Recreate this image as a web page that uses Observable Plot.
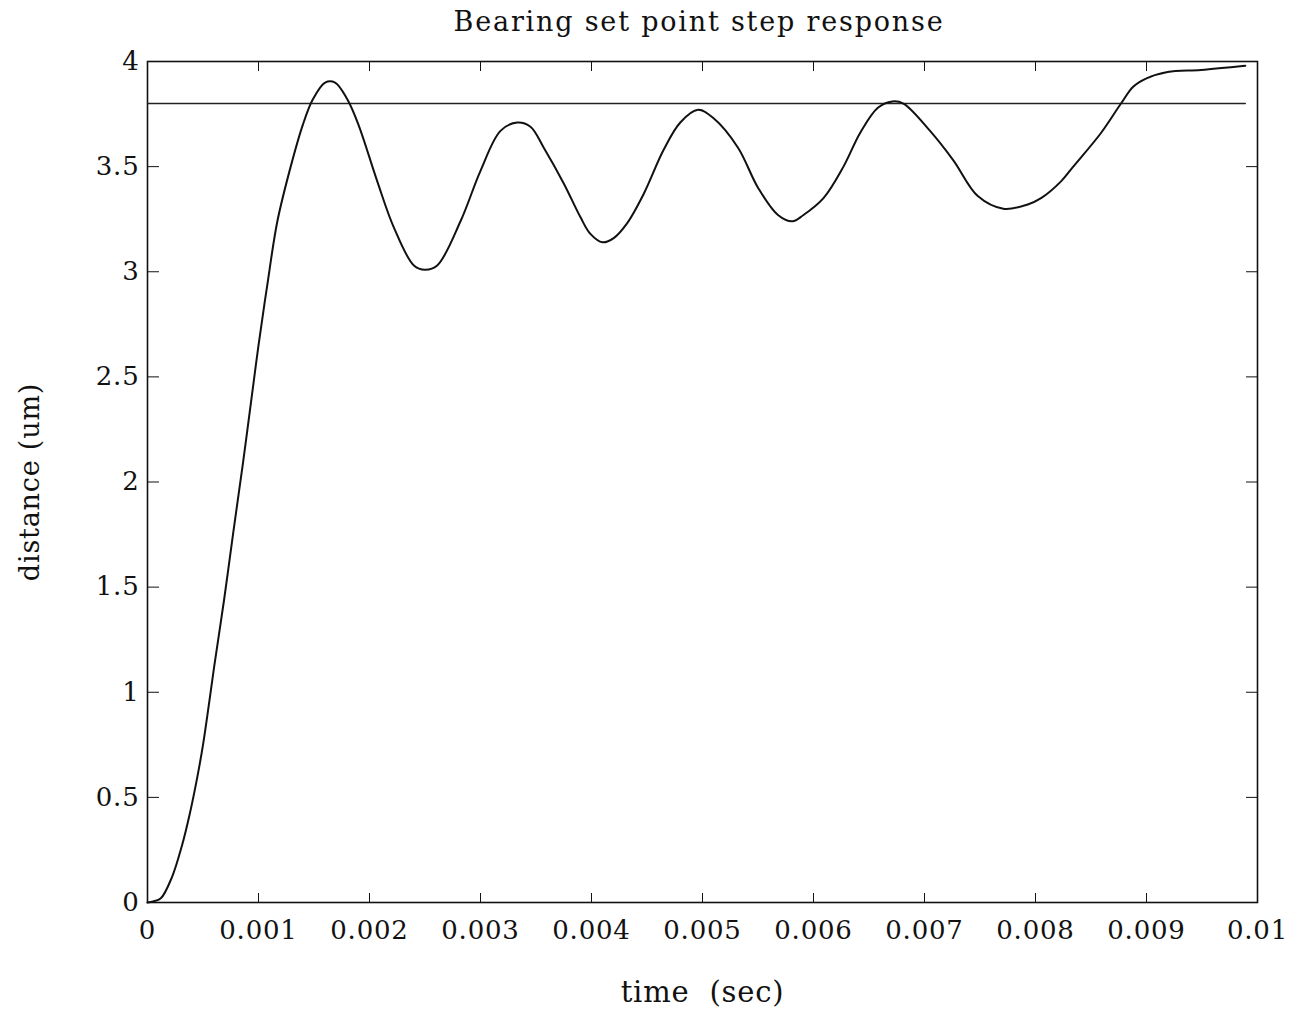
<!DOCTYPE html>
<html>
<head>
<meta charset="utf-8">
<script src="https://cdn.jsdelivr.net/npm/d3@7"></script>
<script src="https://cdn.jsdelivr.net/npm/@observablehq/plot@0.6"></script>
<style>
  html, body { margin: 0; padding: 0; background: #fff; }
  #title { height: 44px; line-height: 44px; width: 1302px; text-align: center; padding-left: 96px; box-sizing: border-box;
           font-family: "DejaVu Serif", serif; font-size: 27px; letter-spacing: 1.8px; color: #111; }
</style>
</head>
<body>
<div id="title">Bearing set point step response</div>
<div id="chart"></div>
<script>
// time (sec)
const timeSec = [0, 0.00005, 0.00012, 0.00022, 0.00031, 0.00038, 0.00045, 0.0005, 0.00055, 0.0006,
  0.00069, 0.00077, 0.00086, 0.00095, 0.001, 0.00108, 0.00117, 0.00129, 0.0014, 0.00149,
  0.0016, 0.00169, 0.0018, 0.0019, 0.00207, 0.00222, 0.0024, 0.0025, 0.00261, 0.00282,
  0.003, 0.00318, 0.00333, 0.00345, 0.00357, 0.00375, 0.0039, 0.00399, 0.0041, 0.0042,
  0.00432, 0.00447, 0.00465, 0.0048, 0.00496, 0.0051, 0.00532, 0.0055, 0.00568, 0.00581,
  0.00591, 0.00609, 0.00627, 0.00642, 0.00658, 0.00671, 0.00681, 0.00705, 0.00726, 0.00748,
  0.00771, 0.00793, 0.00805, 0.00823, 0.00834, 0.00859, 0.00877, 0.00888, 0.009, 0.00919,
  0.00949, 0.00989];
// distance (um)
const distanceUm = [0, 0.005, 0.02, 0.12, 0.27, 0.42, 0.6, 0.75, 0.93, 1.12,
  1.44, 1.75, 2.09, 2.45, 2.65, 2.94, 3.24, 3.50, 3.70, 3.82,
  3.90, 3.90, 3.82, 3.70, 3.43, 3.21, 3.03, 3.01, 3.03, 3.24,
  3.48, 3.67, 3.71, 3.69, 3.59, 3.42, 3.26, 3.18, 3.14, 3.16,
  3.23, 3.37, 3.58, 3.71, 3.77, 3.73, 3.59, 3.40, 3.27, 3.24,
  3.27, 3.35, 3.50, 3.66, 3.78, 3.81, 3.80, 3.67, 3.53, 3.36,
  3.30, 3.32, 3.35, 3.43, 3.50, 3.66, 3.80, 3.88, 3.92, 3.95,
  3.96, 3.98];
// set point
const setPointTime = [0, 0.00989];
const setPointValue = [3.8, 3.8];
// ticks
const xTicks = [0, 0.001, 0.002, 0.003, 0.004, 0.005, 0.006, 0.007, 0.008, 0.009, 0.01];
const xTickLabels = ["0", "0.001", "0.002", "0.003", "0.004", "0.005", "0.006", "0.007", "0.008", "0.009", "0.01"];
const yTicks = [0, 0.5, 1, 1.5, 2, 2.5, 3, 3.5, 4];
const yTickLabels = ["0", "0.5", "1", "1.5", "2", "2.5", "3", "3.5", "4"];
const xLabel = ["time\u00a0\u00a0(sec)"];
const yLabel = ["distance (um)"];

const response = timeSec.map((t, i) => ({t, v: distanceUm[i]}));
const setPoint = setPointTime.map((t, i) => ({t, v: setPointValue[i]}));
const fmtX = d => xTickLabels[xTicks.indexOf(d)] ?? "";
const fmtY = d => yTickLabels[yTicks.indexOf(d)] ?? "";

const chart = Plot.plot({
  width: 1302,
  height: 982,
  marginLeft: 147,
  marginRight: 45,
  marginTop: 17,
  marginBottom: 124,
  style: {fontFamily: "DejaVu Serif, serif", fontSize: "26px", color: "#111", background: "#fff", letterSpacing: "0.8px"},
  x: {domain: [0, 0.01]},
  y: {domain: [0, 4]},
  marks: [
    Plot.frame({stroke: "#111", strokeWidth: 1.6}),
    // inward ticks
    Plot.axisX(xTicks, {anchor: "bottom", tickSize: -9, tickFormat: () => "", label: null, stroke: "#111"}),
    Plot.axisX(xTicks, {anchor: "top", tickSize: -9, tickFormat: () => "", label: null, stroke: "#111"}),
    Plot.axisY(yTicks, {anchor: "left", tickSize: -12, tickFormat: () => "", label: null, stroke: "#111"}),
    Plot.axisY(yTicks, {anchor: "right", tickSize: -12, tickFormat: () => "", label: null, stroke: "#111"}),
    // tick labels
    Plot.axisX(xTicks, {anchor: "bottom", tickSize: 0, tickPadding: 18, tickFormat: fmtX, fontSize: 26, label: null, fill: "#111"}),
    Plot.axisY(yTicks, {anchor: "left", tickSize: 0, tickPadding: 8, tickFormat: fmtY, fontSize: 26, label: null, fill: "#111"}),
    // axis titles
    Plot.text(xLabel, {frameAnchor: "bottom", textAnchor: "middle", dy: 99, fontSize: 29, fill: "#111"}),
    Plot.text(yLabel, {frameAnchor: "left", textAnchor: "middle", rotate: -90, dx: -117, fontSize: 27, fill: "#111"}),
    Plot.line(setPoint, {x: "t", y: "v", stroke: "#222", strokeWidth: 1.4}),
    Plot.line(response, {x: "t", y: "v", stroke: "#111", strokeWidth: 2, curve: "catmull-rom"})
  ]
});
document.getElementById("chart").appendChild(chart);
</script>
</body>
</html>
